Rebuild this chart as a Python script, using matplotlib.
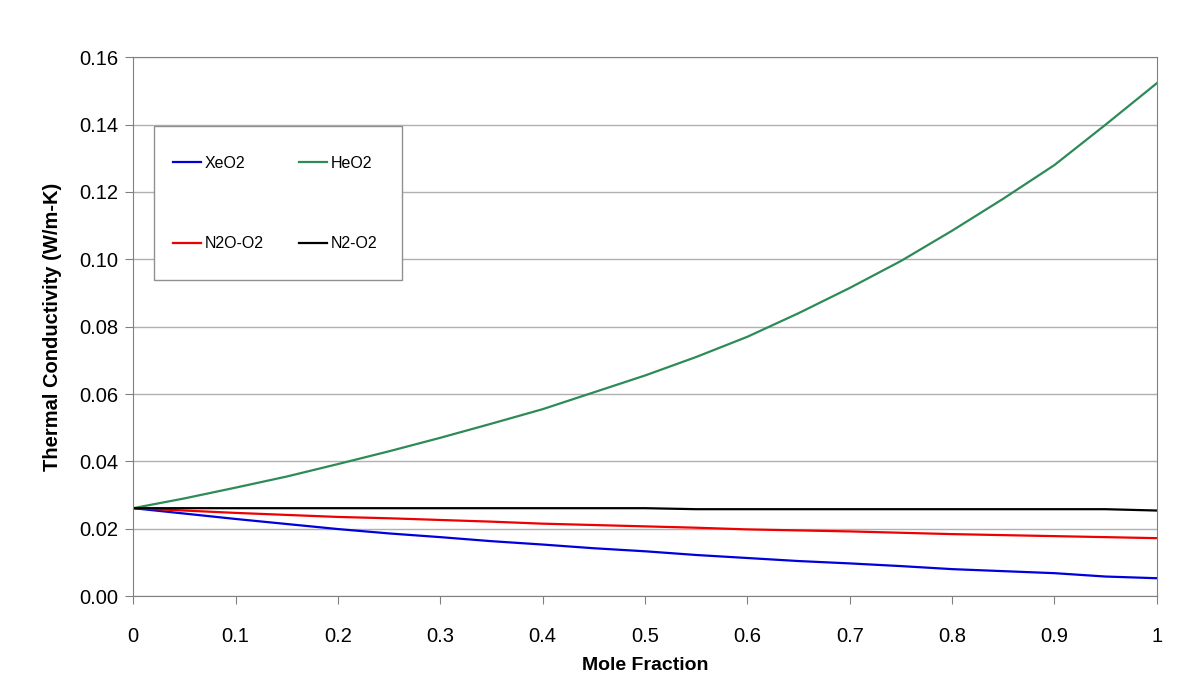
import matplotlib.pyplot as plt
from matplotlib.patches import Rectangle

plt.rcParams['font.family'] = ['Liberation Sans', 'DejaVu Sans']

# mole fraction
x = [0, 0.05, 0.1, 0.15, 0.2, 0.25, 0.3, 0.35, 0.4, 0.45, 0.5,
     0.55, 0.6, 0.65, 0.7, 0.75, 0.8, 0.85, 0.9, 0.95, 1.0]

xeo2 = [0.0261, 0.0245, 0.0229, 0.0214, 0.0199, 0.0186, 0.0175, 0.0163, 0.0153, 0.0142, 0.0133,
        0.0122, 0.0113, 0.0104, 0.0097, 0.0089, 0.0080, 0.0074, 0.0068, 0.0058, 0.0053]
heo2 = [0.0261, 0.0290, 0.0322, 0.0355, 0.0392, 0.0430, 0.0470, 0.0512, 0.0555, 0.0605, 0.0655,
        0.0710, 0.0770, 0.0840, 0.0915, 0.0995, 0.1085, 0.1180, 0.1280, 0.1400, 0.1523]
n2o_o2 = [0.0261, 0.0254, 0.0247, 0.0241, 0.0235, 0.0231, 0.0226, 0.0221, 0.0215, 0.0211, 0.0207,
          0.0203, 0.0198, 0.0195, 0.0192, 0.0188, 0.0184, 0.0181, 0.0178, 0.0175, 0.0172]
n2_o2 = [0.0261, 0.0261, 0.0261, 0.0261, 0.0261, 0.0261, 0.0261, 0.0261, 0.0261, 0.0261, 0.0261,
         0.0258, 0.0258, 0.0258, 0.0258, 0.0258, 0.0258, 0.0258, 0.0258, 0.0258, 0.0254]

fig = plt.figure(figsize=(12, 6.82), dpi=100)
ax = fig.add_axes([0.111, 0.126, 0.853, 0.790])

l1, = ax.plot(x, xeo2, color='#0000dd', lw=1.6, label='XeO2')
l2, = ax.plot(x, heo2, color='#2e8b57', lw=1.6, label='HeO2')
l3, = ax.plot(x, n2o_o2, color='#ee0000', lw=1.6, label='N2O-O2')
l4, = ax.plot(x, n2_o2, color='black', lw=1.6, label='N2-O2')

ax.set_xlim(0, 1)
ax.set_ylim(0, 0.16)
ax.set_xticks([0, 0.1, 0.2, 0.3, 0.4, 0.5, 0.6, 0.7, 0.8, 0.9, 1])
ax.set_xticklabels(['0', '0.1', '0.2', '0.3', '0.4', '0.5', '0.6', '0.7', '0.8', '0.9', '1'])
ax.set_yticks([0, 0.02, 0.04, 0.06, 0.08, 0.10, 0.12, 0.14, 0.16])
ax.set_yticklabels(['%.2f' % v for v in ax.get_yticks()])
ax.tick_params(labelsize=14.5, color='#808080', length=6)
ax.tick_params(axis='x', pad=16)
ax.tick_params(axis='y', pad=5)
ax.grid(axis='y', color='#b0b0b0', lw=1)
ax.set_axisbelow(True)
for s in ax.spines.values():
    s.set_color('#808080')

ax.set_xlabel('Mole Fraction', fontsize=14, fontweight='bold', labelpad=8)
ax.set_ylabel('Thermal Conductivity (W/m-K)', fontsize=14.5, fontweight='bold', labelpad=12)

# legend box drawn separately, entries placed inside it
box = Rectangle((154 / 1200, 1 - 280 / 682), 248 / 1200, 154 / 682,
                transform=fig.transFigure, facecolor='white',
                edgecolor='#909090', lw=1, zorder=4, clip_on=False)
ax.add_artist(box)
leg = ax.legend([l1, l3, l2, l4], ['XeO2', 'N2O-O2', 'HeO2', 'N2-O2'], ncol=2,
                loc='upper left', bbox_to_anchor=(173 / 1200, 1 - 156 / 682),
                bbox_transform=fig.transFigure, fontsize=11.5, frameon=False,
                labelspacing=4.1, columnspacing=2.2, handlelength=1.75,
                handletextpad=0.25, borderpad=0, borderaxespad=0)
leg.set_zorder(6)

fig.savefig('out.png', dpi=100)
